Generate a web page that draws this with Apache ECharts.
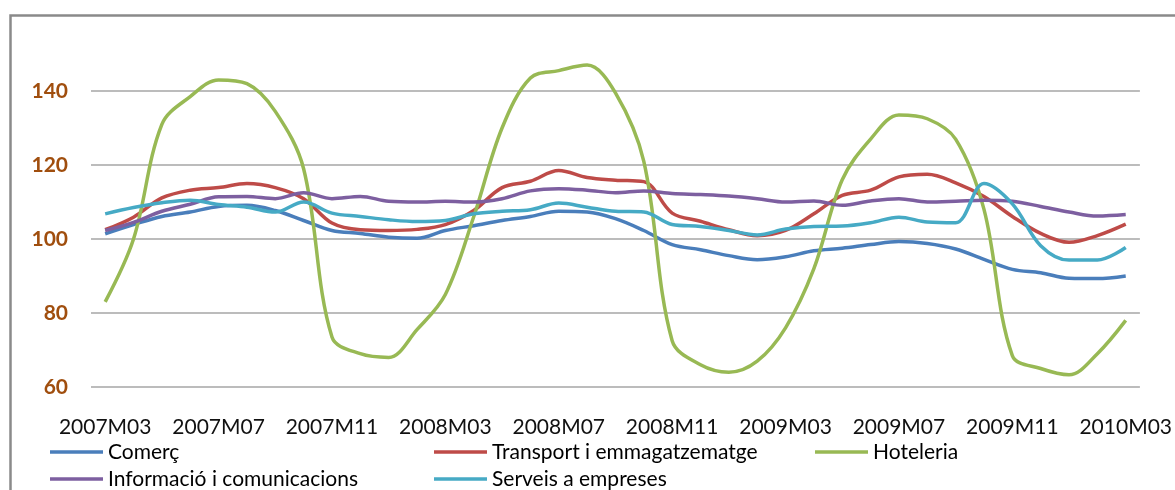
<!DOCTYPE html>
<html>
<head>
<meta charset="utf-8">
<script src="https://cdn.jsdelivr.net/npm/echarts@6/dist/echarts.min.js"></script>
<style>
html,body{margin:0;padding:0;background:#fff;}
#chart{width:1175px;height:490px;}
</style>
</head>
<body>
<div id="chart"></div>
<script>
var months = ['2007M03','2007M04','2007M05','2007M06','2007M07','2007M08','2007M09','2007M10','2007M11','2007M12',
  '2008M01','2008M02','2008M03','2008M04','2008M05','2008M06','2008M07','2008M08','2008M09','2008M10','2008M11','2008M12',
  '2009M01','2009M02','2009M03','2009M04','2009M05','2009M06','2009M07','2009M08','2009M09','2009M10','2009M11','2009M12',
  '2010M01','2010M02','2010M03'];

var comerc = [101.4,103.9,106.1,107.3,108.8,109.1,107.7,105,102.3,101.5,100.5,100.2,102.3,103.6,105,106.1,107.5,107.3,105.5,102.3,98.5,97.1,95.5,94.4,95.2,96.8,97.5,98.5,99.3,98.8,97.3,94.5,91.8,90.9,89.4,89.3,90];
var transport = [102.5,105.9,111.1,113.2,113.9,115,113.9,110.9,104.3,102.5,102.3,102.6,103.9,107.7,113.9,115.6,118.5,116.6,115.9,115.5,107,104.8,102.5,100.9,102.3,106.8,111.8,113.2,116.8,117.5,115.2,111.5,106.1,101.5,99.1,100.9,104];
var hoteleria = [83,100,131,138.5,143,142,134.5,119,73.5,69,68,75.5,85,106,130,143.5,145.5,147,139.5,121,72.5,66,64,67,76,92,116,127,133.5,132.5,127,108,68.5,65,63.3,69,78];
var informacio = [102.3,104.5,107.5,109.4,111.4,111.5,110.9,112.5,110.9,111.5,110.2,110,110.2,110,110.9,113,113.6,113.2,112.5,113,112.3,112,111.6,110.9,110,110.3,109.1,110.3,110.9,110,110.2,110.5,110.2,108.8,107.3,106.2,106.6];
var serveis = [106.8,108.5,109.8,110.5,109.3,108.6,107.3,110,107,106.1,105.2,104.7,105,106.8,107.5,107.9,109.7,108.6,107.5,107.3,103.9,103.4,102.3,101.1,102.7,103.4,103.5,104.4,105.9,104.6,104.4,115,109.5,98.2,94.3,94.3,97.7];

var yTicks = {min: 60, max: 140, step: 20};

var names = ['Comerç','Transport i emmagatzematge','Hoteleria','Informació i comunicacions','Serveis a empreses'];
var colors = ['#4A7EBB','#BE4B48','#98B954','#7D5FA0','#46AAC5'];
var values = [comerc, transport, hoteleria, informacio, serveis];

var FONT = 'Lato';
var chart = echarts.init(document.getElementById('chart'));

var series = names.map(function(n, i){
  return {
    name: n, type: 'line', data: values[i], smooth: 0.35, symbol: 'none', clip: false,
    lineStyle: {color: colors[i], width: 3.5},
    itemStyle: {color: colors[i]}
  };
});

function legendAt(left, data){
  return {
    left: left, top: 441, orient: 'vertical', itemGap: 5, padding: 0,
    icon: 'rect', itemWidth: 53, itemHeight: 3.5,
    data: data, selectedMode: false,
    textStyle: {fontFamily: FONT, fontSize: 21, color: '#000', lineHeight: 22}
  };
}

chart.setOption({
  animation: false,
  color: colors,
  graphic: [{
    type: 'rect', left: 8, top: 13, silent: true,
    shape: {x: 0, y: 0, width: 1250, height: 600},
    style: {fill: 'none', stroke: '#8a8a8a', lineWidth: 2.5}
  }],
  legend: [
    legendAt(50, [names[0], names[3]]),
    legendAt(434, [names[1], names[4]]),
    legendAt(815, [names[2]])
  ],
  grid: {left: 91, right: 34, top: 91, bottom: 103, containLabel: false},
  xAxis: {
    type: 'category', data: months, boundaryGap: true,
    axisLine: {show: false}, axisTick: {show: false}, splitLine: {show: false},
    axisLabel: {interval: 3, margin: 30, fontFamily: FONT, fontSize: 21, color: '#111'}
  },
  yAxis: {
    type: 'value', min: yTicks.min, max: yTicks.max, interval: yTicks.step,
    axisLine: {show: false}, axisTick: {show: false},
    splitLine: {lineStyle: {color: '#a6a6a6', width: 1.5}},
    axisLabel: {margin: 23, fontFamily: FONT, fontSize: 21, fontWeight: 'bold', color: '#A04E0E'}
  },
  series: series
});
</script>
</body>
</html>
